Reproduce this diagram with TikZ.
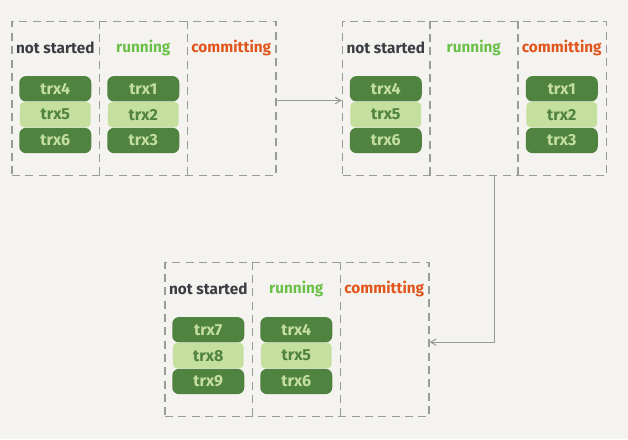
\documentclass[tikz,border=0pt]{standalone}
\usepackage{tikz}
\usetikzlibrary{positioning,arrows}
\usepackage{fontspec}
\setmainfont{Fira Sans}
\definecolor{paper}{HTML}{F4F3EF}
\definecolor{frame}{HTML}{9A9A9A}
\definecolor{darkblk}{HTML}{508240}
\definecolor{lightblk}{HTML}{C4DF9E}
\definecolor{notcol}{HTML}{3A3E42}
\definecolor{runcol}{HTML}{6CC04A}
\definecolor{comcol}{HTML}{E0551C}

\begin{document}
\begin{tikzpicture}[x=0.75pt,y=-0.75pt,>=angle 60,
  panel/.style={draw=frame,line width=1.1pt,dash pattern=on 6pt off 4pt,
    minimum width=198pt,minimum height=115.5pt,inner sep=0pt},
  divider/.style={draw=frame,line width=1.1pt,dash pattern=on 6pt off 4pt},
  head/.style={font=\fontsize{11.5}{14}\selectfont\bfseries,inner sep=0pt},
  dark/.style={fill=darkblk,rounded corners=5pt,minimum width=54pt,minimum height=19pt,
    inner sep=0pt,text=lightblk,font=\fontsize{12}{14}\selectfont\bfseries},
  light/.style={fill=lightblk,rounded corners=3pt,minimum width=53pt,minimum height=19pt,
    inner sep=0pt,text=darkblk,font=\fontsize{12}{14}\selectfont\bfseries},
  link/.style={draw=frame,line width=0.8pt,->}
]
\fill[paper] (0,0) rectangle (628,439);
\useasboundingbox (0,0) rectangle (628,439);

% panels
\node[panel] (p1) at (144,98.5) {};
\node[panel] (p2) at (474.5,98.5) {};
\node[panel] (p3) at (297,339.5) {};

% column dividers
\foreach \p in {p1,p2,p3}{
  \draw[divider] ([xshift=66pt]\p.north west) -- ([xshift=66pt]\p.south west);
  \draw[divider] ([xshift=132pt]\p.north west) -- ([xshift=132pt]\p.south west);
  \node[head,text=notcol] (\p-a) at ([xshift=33pt,yshift=-20.5pt]\p.north west) {not started};
  \node[head,text=runcol] (\p-b) at ([xshift=99pt,yshift=-20.5pt]\p.north west) {running};
  \node[head,text=comcol] (\p-c) at ([xshift=165pt,yshift=-20.5pt]\p.north west) {committing};
}

% first state
\node[dark] (p1t4) at ([xshift=33pt,yshift=-51pt]p1.north west) {trx4};
\node[light,below=0pt of p1t4] (p1t5) {trx5};
\node[dark,below=0pt of p1t5] (p1t6) {trx6};
\node[dark] (p1t1) at ([xshift=99pt,yshift=-51pt]p1.north west) {trx1};
\node[light,below=0pt of p1t1] (p1t2) {trx2};
\node[dark,below=0pt of p1t2] (p1t3) {trx3};

% second state
\node[dark] (p2t4) at ([xshift=33pt,yshift=-51pt]p2.north west) {trx4};
\node[light,below=0pt of p2t4] (p2t5) {trx5};
\node[dark,below=0pt of p2t5] (p2t6) {trx6};
\node[dark] (p2t1) at ([xshift=165pt,yshift=-51pt]p2.north west) {trx1};
\node[light,below=0pt of p2t1] (p2t2) {trx2};
\node[dark,below=0pt of p2t2] (p2t3) {trx3};

% third state
\node[dark] (p3t7) at ([xshift=33pt,yshift=-51pt]p3.north west) {trx7};
\node[light,below=0pt of p3t7] (p3t8) {trx8};
\node[dark,below=0pt of p3t8] (p3t9) {trx9};
\node[dark] (p3t4) at ([xshift=99pt,yshift=-51pt]p3.north west) {trx4};
\node[light,below=0pt of p3t4] (p3t5) {trx5};
\node[dark,below=0pt of p3t5] (p3t6) {trx6};

% transitions
\coordinate (bend) at ([xshift=15pt]p2.south);
\draw[link] ([yshift=-1.5pt]p1.east) -- ([yshift=-1.5pt]p2.west);
\draw[link] (bend) |- ([yshift=-2pt]p3.east);
\end{tikzpicture}
\end{document}
